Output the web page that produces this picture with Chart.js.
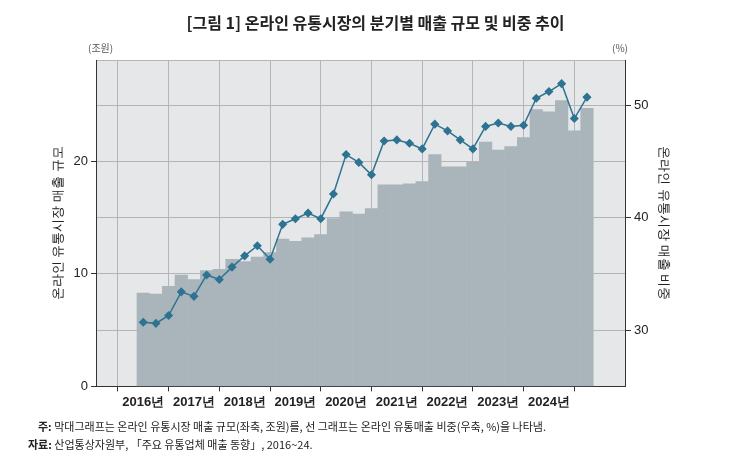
<!DOCTYPE html>
<html><head><meta charset="utf-8">
<script src="https://cdn.jsdelivr.net/npm/chart.js@4"></script>
<style>
body{margin:0;background:#fff;font-family:"Noto Sans CJK KR","Noto Sans",sans-serif;}
#wrap{position:relative;width:751px;height:463px;}
canvas{position:absolute;left:0;top:0;}
.t{position:absolute;white-space:nowrap;color:#222;}
</style></head><body>
<div id="wrap">
<canvas id="c" width="751" height="463"></canvas>
<div class="t" style="left:0;width:751px;text-align:center;top:10px;font-size:16px;font-weight:bold;">[그림 1] 온라인 유통시장의 분기별 매출 규모 및 비중 추이</div>
<div class="t" style="left:88px;top:40px;font-size:10px;color:#555;">(조원)</div>
<div class="t" style="left:612px;top:40px;font-size:10px;color:#555;">(%)</div>
<div class="t" style="left:38px;top:418px;font-size:11px;"><b>주:</b> 막대그래프는 온라인 유통시장 매출 규모(좌축, 조원)를, 선 그래프는 온라인 유통매출 비중(우축, %)을 나타냄.</div>
<div class="t" style="left:28px;top:436px;font-size:11px;"><b>자료:</b> 산업통상자원부, 「주요 유통업체 매출 동향」, 2016~24.</div>
</div>
<script>
const years = ['2016년','2017년','2018년','2019년','2020년','2021년','2022년','2023년','2024년'];
const salesTrillion = [8.3,8.2,8.9,9.9, 9.5,10.3,10.4,11.3, 11.1,11.5,11.9,13.1, 12.9,13.2,13.5,14.9,
  15.5,15.3,15.8,17.9, 17.9,18.0,18.2,20.6, 19.5,19.5,19.9,21.7, 21.0,21.3,22.1,24.6, 24.4,25.4,22.7,24.7];
const onlineShare = [30.7,30.6,31.3,33.4, 33.0,34.9,34.5,35.6, 36.6,37.5,36.3,39.4, 39.9,40.4,39.9,42.1,
  45.6,44.9,43.8,46.8, 46.9,46.6,46.1,48.3, 47.7,46.9,46.1,48.1, 48.4,48.1,48.2,50.6, 51.2,51.9,48.8,50.7];

const bgPlugin = {id:'bg', beforeDraw(ch){const a=ch.chartArea,x=ch.ctx;x.save();x.fillStyle='#e6e7e9';x.fillRect(a.left,a.top,a.right-a.left,a.bottom-a.top);x.restore();}};
const gridCol = '#b3b5b8';
new Chart(document.getElementById('c'), {
  data: {
    datasets: [
      {type:'line', data: onlineShare.map((v,i)=>({x:i,y:v})), yAxisID:'y1', borderColor:'#2e7391', backgroundColor:'#2e7391',
       borderWidth:1.5, pointStyle:'rectRot', pointRadius:3.5, tension:0, order:0},
      {type:'bar', data: salesTrillion.map((v,i)=>({x:i,y:v})), yAxisID:'y', backgroundColor:'#a9b4bb', barThickness:12.5, order:1}
    ]
  },
  options: {
    responsive:false, animation:false,
    layout:{padding:{top:60,bottom:50,left:47,right:76}},
    plugins:{legend:{display:false}, tooltip:{enabled:false}},
    scales:{
      x:{type:'linear', min:-1.4, max:35.75,
         afterBuildTicks:s=>{s.ticks=years.map((y,i)=>({value:i*4}));},
         grid:{color:gridCol, tickLength:5, tickColor:'#333'},
         border:{color:'#333'},
         ticks:{autoSkip:false, maxRotation:0, color:'#222', font:{size:13,weight:'bold'},
                callback:v=>years[v/4]}},
      y:{position:'left', min:0, max:29, ticks:{stepSize:5, color:'#222', font:{size:13},
           callback:v=>v%10===0?v:''},
         grid:{color:gridCol, tickLength:5, tickColor:c=>c.tick.value%10===0?'#333':'transparent'},
         border:{color:'#333'},
         title:{display:true, text:'온라인 유통시장 매출 규모', color:'#222', font:{size:13}}},
      y1:{position:'right', min:25, max:54, ticks:{stepSize:5, color:'#222', font:{size:13},
           callback:v=>v%10===0?v:''},
         grid:{drawOnChartArea:false, tickLength:5, tickColor:c=>c.tick.value%10===0?'#333':'transparent'},
         border:{color:'#333'},
         title:{display:true, text:'온라인 유통시장 매출 비중', color:'#222', font:{size:13}}}
    }
  },
  plugins:[bgPlugin]
});
</script>
</body></html>
